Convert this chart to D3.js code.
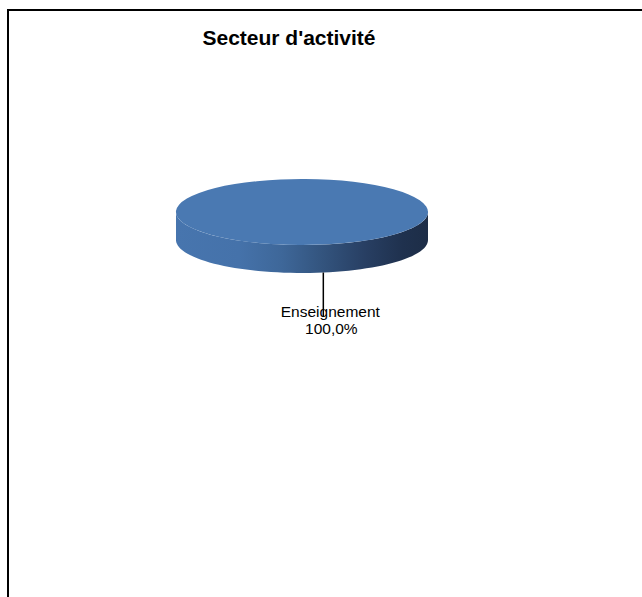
<!DOCTYPE html>
<html><head><meta charset="utf-8">
<script src="https://cdn.jsdelivr.net/npm/d3@7"></script>
<style>body{margin:0;background:#fff}svg{display:block}</style>
</head><body>
<script>
const title = "Secteur d'activité";
const categories = ["Enseignement"];
const values = [100];
const colors = ["#4a79b2"];

const W = 642, H = 597;
const svg = d3.select("body").append("svg").attr("width", W).attr("height", H);

svg.append("rect").attr("x", 8).attr("y", 10).attr("width", 700).attr("height", 700)
  .attr("fill", "none").attr("stroke", "#000").attr("stroke-width", 2);

svg.append("text").attr("x", 289).attr("y", 45).attr("text-anchor", "middle")
  .attr("font-family", "Liberation Sans, Arial, sans-serif").attr("font-weight", "bold")
  .attr("font-size", 21).text(title);

const cx = 302, cy = 212, rx = 126, ry = 33, depth = 28;
const rot = -0.17;
const pie = d3.pie().sort(null).startAngle(rot).endAngle(rot + 2 * Math.PI);
const arcs = pie(values);
const total = d3.sum(values);

const defs = svg.append("defs");
const grad = defs.append("linearGradient").attr("id", "side").attr("gradientUnits", "userSpaceOnUse")
  .attr("x1", cx - rx).attr("x2", cx + rx).attr("y1", 0).attr("y2", 0);
[[0, "#4775ae"], [0.25, "#4572aa"], [0.42, "#3e6799"], [0.58, "#33547e"], [0.75, "#283f63"], [0.9, "#1f314e"], [1, "#1d2d47"]]
  .forEach(([o, c]) => grad.append("stop").attr("offset", o).attr("stop-color", c));

const pt = (a, dy = 0) => [cx + rx * Math.sin(a), cy - ry * Math.cos(a) + dy];
const norm = a => ((a % (2 * Math.PI)) + 2 * Math.PI) % (2 * Math.PI);

// side walls (front half)
arcs.forEach((d, i) => {
  const n = 120, pts = [];
  for (let k = 0; k <= n; k++) {
    const na = norm(d.startAngle + (d.endAngle - d.startAngle) * k / n);
    if (na >= Math.PI / 2 && na <= 3 * Math.PI / 2) pts.push(na);
  }
  pts.push(Math.PI / 2, 3 * Math.PI / 2);
  pts.sort((p, q) => p - q);
  if (pts.length > 1) {
    const top = pts.map(a => pt(a));
    const bot = pts.slice().reverse().map(a => pt(a, depth));
    svg.append("path").attr("d", "M" + top.concat(bot).map(p => p.join(",")).join("L") + "Z")
      .attr("fill", "url(#side)");
  }
});

// top faces
const arcGen = d3.arc().innerRadius(0).outerRadius(1);
svg.selectAll("path.top").data(arcs).join("path").attr("class", "top")
  .attr("transform", `translate(${cx},${cy}) scale(${rx},${ry})`)
  .attr("d", arcGen).attr("fill", (d, i) => colors[i]);

// labels with leader lines
arcs.forEach((d, i) => {
  const mid = (d.startAngle + d.endAngle) / 2;
  const p = pt(mid, depth);
  svg.append("line").attr("x1", p[0]).attr("y1", p[1]).attr("x2", p[0]).attr("y2", 317)
    .attr("stroke", "#000").attr("stroke-width", 1.5);
  const t = svg.append("text").attr("text-anchor", "middle")
    .attr("font-family", "Liberation Sans, Arial, sans-serif").attr("font-size", 15.5).attr("fill", "#000");
  t.append("tspan").attr("x", p[0] + 7).attr("y", 317).text(categories[i]);
  t.append("tspan").attr("x", p[0] + 8).attr("y", 334)
    .text(d3.format(".1f")(d.value / total * 100).replace(".", ",") + "%");
});
</script>
</body></html>
